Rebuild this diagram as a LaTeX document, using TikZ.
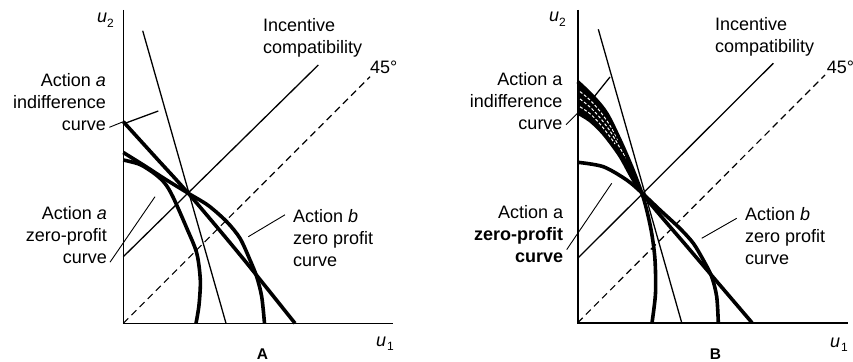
\documentclass[tikz,border=0pt]{standalone}
\usepackage{fontspec}
\setmainfont{Liberation Sans}
\usepackage{tikz}

\begin{document}
\begin{tikzpicture}[x=1pt,y=-1pt,
  axis/.style={line width=1.6pt},
  heavy/.style={line width=3.6pt,line join=round},
  thinline/.style={line width=1.3pt},
  fortyfive/.style={line width=1.2pt,dash pattern=on 7pt off 4.5pt},
  leader/.style={line width=0.9pt},
  hatchline/.style={white,line width=1pt,dash pattern=on 3pt off 2pt},
  lbl/.style={inner sep=0pt,font=\fontsize{18}{22}\selectfont},
  axlbl/.style={inner sep=0pt,anchor=base west,font=\fontsize{18}{20}\selectfont},
  panel/.style={inner sep=0pt,anchor=base,font=\fontsize{15.5}{18}\selectfont\bfseries}]
\useasboundingbox (0,0) rectangle (853,361);

\coordinate (oA) at (123.3,323.3);
\draw[axis] (123.3,10) -- (oA) -- (392.7,323.3);
\draw[thinline] (142.7,30.7) -- (226,323.3);
\draw[thinline] (123.3,256.7) -- (318.3,65);
\draw[fortyfive] (oA) -- (370,76.7);
\draw[thinline] (125,123.3) -- (158.3,111);
\draw[heavy] plot[smooth] coordinates {(123.3,121.7) (156,157.7) (188.3,193.3) (240,254.8) (295,323.3)};
\draw[heavy] plot[smooth] coordinates {(123.3,160) (140,164.5) (155,174) (165,183.5) (173,197) (186.7,228) (196.7,253) (200.3,280) (199,305) (196,323.3)};
\draw[heavy] plot[smooth] coordinates {(123.3,152.5) (145,166) (165,179) (188.3,193.3) (208.3,205.5) (226.7,221.7) (240,238.3) (250,260) (256.7,276.7) (261.7,296.7) (264.5,323.3)};

\node[lbl,anchor=north east,align=right] (indA) at (106,73) {Action \textit{a}\\indifference\\curve};
\node[lbl,anchor=north east,align=right] (zpA) at (107,206.6) {Action \textit{a}\\zero-profit\\curve};
\node[lbl,anchor=north west,align=left] (icA) at (263,17.8) {Incentive\\compatibility};
\node[lbl,anchor=north west,align=left] (zbA) at (293,208.8) {Action \textit{b}\\zero profit\\curve};
\node[lbl,anchor=north west] (degA) at (370,61) {45°};
\node[axlbl] (u2A) at (97,23) {\textit{u}\raisebox{-4.5pt}{\fontsize{12}{12}\selectfont 2}};
\node[axlbl] (u1A) at (376,346) {\textit{u}\hspace{1pt}\raisebox{-4.5pt}{\fontsize{12}{12}\selectfont 1}};
\node[panel] (tA) at (262.5,359) {A};

\coordinate (indAend) at (123.3,121.7);
\coordinate (zpAend) at (155,196.7);
\coordinate (zbAend) at (248.3,236.7);
\draw[leader] ([xshift=3.3pt,yshift=3.3pt]indA.south east) -- (indAend);
\draw[leader] ([xshift=3pt,yshift=2pt]zpA.south east) -- (zpAend);
\draw[leader] ([xshift=-8pt,yshift=-6pt]zbA.north west) -- (zbAend);

\coordinate (oB) at (577.7,322.7);
\fill plot[smooth] coordinates {(577.7,81.7) (593.3,96.7) (606.7,113.3) (620,140) (631.7,166.7) (641.7,192.7)}
  -- plot[smooth] coordinates {(641.7,192.7) (620,156) (603.3,133.5) (590,120.5) (577.7,113)} -- cycle;
\draw[hatchline] plot[smooth] coordinates {(580,91.6) (590,100) (600,111.3) (610,125.5) (618,140)};
\draw[hatchline] plot[smooth] coordinates {(580,99) (590,107) (600,117.7) (610,131) (620,148) (626,158)};
\draw[hatchline] plot[smooth] coordinates {(580,106.8) (590,113.7) (600,124) (610,136.8) (615,144)};
\draw[axis] (577.7,10) -- (oB) -- (848.3,322.7);
\draw[thinline] (598.3,29.3) -- (681.7,322.7);
\draw[thinline] (577.7,258.3) -- (773.3,63.3);
\draw[fortyfive] (oB) -- (825,75);
\draw[thinline] (590,102) -- (610,77);
\draw[heavy] plot[smooth] coordinates {(577.7,81.7) (593.3,96.7) (606.7,113.3) (620,140) (631.7,166.7) (641.7,192.7) (646.7,210) (651.7,233.3) (655,260) (655.5,293.3) (652,322.7)};
\draw[heavy] plot[smooth] coordinates {(577.7,113) (590,120.5) (603.3,133.5) (620,156) (641.7,192.7) (690,250) (752,322.7)};
\draw[heavy] plot[smooth] coordinates {(577.7,162.3) (603.3,166.7) (626.7,180) (641.7,192.7) (660,210) (680,228.5) (693.3,243.3) (703.3,260) (711.7,276.7) (716.7,296.7) (718.3,322.7)};

\node[lbl,anchor=north east,align=right] (indB) at (562.7,72.1) {Action a\\indifference\\curve};
\node[lbl,anchor=north east,align=right] (zpB) at (563.3,205.4) {Action a\\\textbf{zero-profit}\\\textbf{curve}};
\node[lbl,anchor=north west,align=left] (icB) at (715,17.1) {Incentive\\compatibility};
\node[lbl,anchor=north west,align=left] (zbB) at (745,207.1) {Action \textit{b}\\zero profit\\curve};
\node[lbl,anchor=north west] (degB) at (826.7,61) {45°};
\node[axlbl] (u2B) at (549,22) {\textit{u}\raisebox{-4.5pt}{\fontsize{12}{12}\selectfont 2}};
\node[axlbl] (u1B) at (830,347) {\textit{u}\hspace{1pt}\raisebox{-4.5pt}{\fontsize{12}{12}\selectfont 1}};
\node[panel] (tB) at (715.5,359) {B};

\coordinate (indBend) at (577.7,113);
\coordinate (zpBend) at (611.7,183.3);
\coordinate (zbBend) at (701.7,238.3);
\draw[leader] ([xshift=3.3pt,yshift=5pt]indB.south east) -- (indBend);
\draw[leader] ([xshift=3.4pt,yshift=13.4pt]zpB.south east) -- (zpBend);
\draw[leader] ([xshift=-8.3pt,yshift=-11.2pt]zbB.north west) -- (zbBend);
\end{tikzpicture}
\end{document}
